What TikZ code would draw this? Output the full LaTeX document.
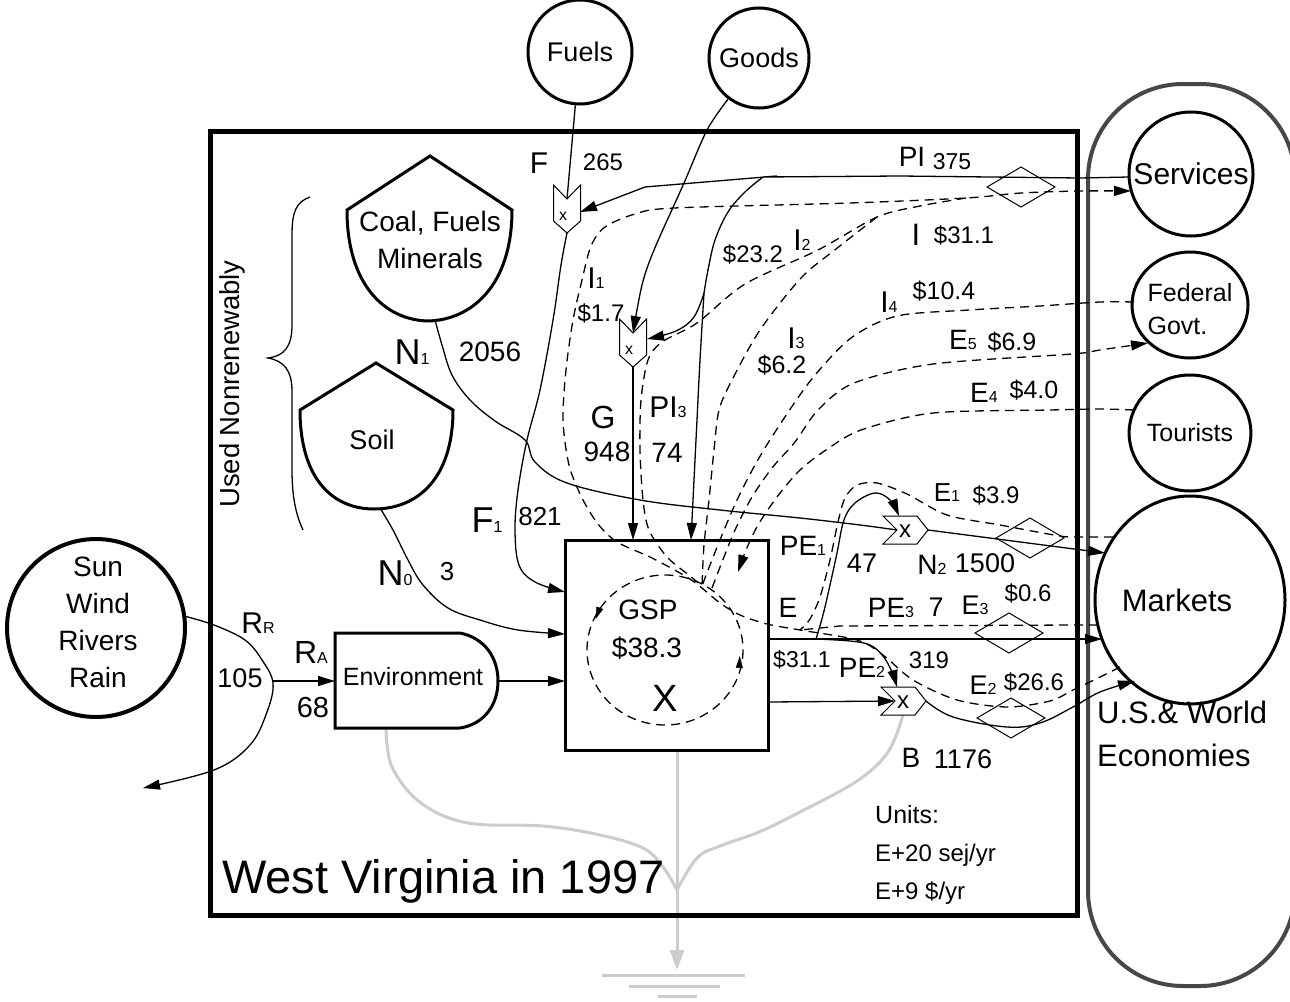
\documentclass[tikz,border=0pt]{standalone}
\usepackage{fontspec}
\setmainfont{Liberation Sans}
\usetikzlibrary{arrows.meta,shapes.geometric}
\newcommand\myfs[1]{\fontsize{#1}{#1}\selectfont}
\newcommand\sbx[1]{{\myfs{16}#1}}
\begin{document}
\begin{tikzpicture}[x=1pt,y=-1pt,
  fl/.style={line width=1.3},
  arr/.style={-{Triangle[length=17pt,width=10pt]}},
  arrs/.style={-{Triangle[length=12pt,width=7pt]}},
  dsh/.style={line width=1.3, dash pattern=on 9pt off 6pt},
  heavy/.style={line width=3},
  ishape/.style={line width=1, fill=white},
  sinkl/.style={line width=3, draw=black!20},
  lb/.style={inner sep=0},
  pics/downx/.style={code={
    \draw[ishape] (-13.5,-24) -- (0,-10) -- (13.5,-24) -- (13.5,12) -- (0,24) -- (-13.5,12) -- cycle;
    \node[inner sep=0,font=\myfs{16}] at (-4,7) {x};
    \coordinate (-top) at (0,-10);
    \coordinate (-bot) at (0,24);
  }},
  pics/rightx/.style={code={
    \draw[ishape] (-22,-14) -- (-8,0) -- (-22,14) -- (12,14) -- (23,0) -- (12,-14) -- cycle;
    \node[inner sep=0,font=\myfs{24}] at (0,1) {x};
    \coordinate (-in) at (-8,0);
    \coordinate (-tip) at (23,0);
    \coordinate (-top) at (-6,-14);
    \coordinate (-bot) at (0,14);
  }},
  pics/price/.style={code={
    \draw[line width=1] (-34,0) -- (0,-20) -- (34,0) -- (0,20) -- cycle;
  }},
]
\fill[white] (0,0) rectangle (1290,1001);
\useasboundingbox (0,0) rectangle (1290,1001);

% ---------- named points ----------
\coordinate (coalB) at (435,320);
\coordinate (soilB) at (380,508);
\coordinate (envW) at (335,681);
\coordinate (envE) at (498,681);
\coordinate (envS) at (386,728);
\coordinate (gspF1) at (565,592);
\coordinate (gspN0) at (565,634);
\coordinate (gspEnv) at (565,681);
\coordinate (gspG) at (633,540);
\coordinate (gspPI) at (691,540);
\coordinate (gspE) at (768,639);
\coordinate (gspB) at (768,702);
\coordinate (gspS) at (677,750);
\coordinate (mkN2) at (1105,553);
\coordinate (mkE) at (1102,639);
\coordinate (mkB) at (1135,681);
\coordinate (mkE1) at (1113,537);
\coordinate (mkE3) at (1098,625);
\coordinate (mkE2) at (1120,667);
\coordinate (servPI) at (1129,177);
\coordinate (servI) at (1131,191);
\coordinate (fedI4) at (1134,302);
\coordinate (fedE5) at (1148,343);
\coordinate (tourE4) at (1134,410);
\coordinate (sunR) at (184,616);
\coordinate (sunOut) at (143,788);
\coordinate (rsplit) at (272,681);
\coordinate (Fr) at (580,212);
\coordinate (Gr) at (647,339);
\coordinate (piSplit) at (763,177);
\coordinate (piG) at (704,293);
\coordinate (eSplit) at (816,639);
\coordinate (J) at (877,217);
\coordinate (conv) at (702,586);
\coordinate (hsj) at (677,890);
\coordinate (Bbot) at (903,715);

% ---------- heat sink ----------
\draw[sinkl] plot[smooth,tension=0.6] coordinates {(envS) (392,767) (421,803) (468,823) (543,826) (600,835) (643,848) (663,867) (hsj)};
\draw[sinkl] plot[smooth,tension=0.6] coordinates {(Bbot) (888,752) (857,781) (800,812) (759,832) (720,846) (697,858) (hsj)};
\draw[sinkl,-{Triangle[length=20pt,width=14pt]}] (gspS) -- (677,970);
\draw[sinkl] (602,975) -- (745,975);
\draw[sinkl] (629,986) -- (720,986);
\draw[sinkl] (658,996) -- (697,996);

% ---------- economy enclosure ----------
\draw[line width=4, draw=black!72, rounded corners=95] (1088,84) rectangle (1295,986);

% ---------- sources ----------
\node[circle,draw,heavy,minimum size=104,inner sep=0,font=\myfs{27}] (fuels) at (580,52) {Fuels};
\node[circle,draw,heavy,minimum size=100,inner sep=0,font=\myfs{27}] (goods) at (759,58) {Goods};
\node[circle,draw,line width=4,minimum size=178,inner sep=0] (sun) at (96,628) {};
\node[align=center,font=\fontsize{28}{37}\selectfont] (suntxt) at (98,622) {Sun\\Wind\\Rivers\\Rain};
\node[circle,draw,heavy,minimum size=124,inner sep=0,font=\myfs{30}] (serv) at (1191,174) {Services};
\node[ellipse,draw,heavy,minimum width=116,minimum height=106,inner sep=0] (fed) at (1190,305) {};
\node[align=left,inner sep=0,font=\fontsize{25}{33}\selectfont] (fedtxt) at (1190,309) {Federal\\Govt.};
\node[ellipse,draw,heavy,minimum width=120,minimum height=116,inner sep=0,font=\myfs{25}] (tour) at (1190,433) {Tourists};
\node[ellipse,draw,heavy,minimum width=190,minimum height=208,inner sep=0] (mkt) at (1190,600) {};
\node[inner sep=0,font=\myfs{31}] (mkttxt) at (1177,600) {Markets};
\node[anchor=west,inner sep=0,font=\myfs{31}] (us) at (1097,712) {U.S.\& World};
\node[anchor=west,inner sep=0,font=\myfs{31}] (econ) at (1097,755) {Economies};

% ---------- storages ----------
\draw[heavy] (430,156) -- (512,210) .. controls (512,285) and (472,320) .. (428,321) .. controls (385,320) and (347,285) .. (347,210) -- cycle;
\node[align=center,font=\fontsize{28}{37}\selectfont] (coal) at (430,240) {Coal, Fuels\\Minerals};
\draw[heavy] (376,363) -- (453,410) .. controls (453,478) and (418,509) .. (374,509) .. controls (332,509) and (300,478) .. (300,410) -- cycle;
\node[font=\myfs{27}] (soil) at (372,440) {Soil};

% brace
\draw[fl] (310,197) .. controls (296,202) and (292,212) .. (292,235) -- (292,325) .. controls (292,347) and (284,356) .. (268,358) .. controls (284,361) and (292,370) .. (292,392) -- (292,470) .. controls (292,500) and (297,517) .. (303,530);
\node[rotate=90,font=\myfs{27.5}] (usednr) at (232,384) {Used Nonrenewably};

% environment
\draw[heavy] (335,633) -- (460,633) .. controls (485,638) and (498,658) .. (498,681) .. controls (498,704) and (485,724) .. (460,728) -- (335,728) -- cycle;
\node[font=\myfs{25}] (envtxt) at (413,677) {Environment};

% GSP box
\node[draw,heavy,minimum width=203,minimum height=210,inner sep=0] (gsp) at (666.5,645) {};
\draw[dsh] (665,650) ellipse [x radius=78, y radius=75];
\draw[arrs] (599,610) -- (595.5,619);
\draw[arrs] (739.3,668) -- (739.8,656);
\node[lb,font=\myfs{28}] (gsptxt) at (648,610) {GSP};
\node[lb,font=\myfs{28}] (gspval) at (647,648) {\$38.3};
\node[lb,font=\myfs{38}] (gspx) at (665,698) {X};

% interactions and prices
\pic (F) at (567,209) {downx};
\pic (G) at (633,343) {downx};
\pic (N2) at (905,530) {rightx};
\pic (B) at (903,701) {rightx};
\pic at (1021,187) {price};
\pic at (1030,538) {price};
\pic at (1009,633) {price};
\pic at (1011,718) {price};

% ---------- solid flows ----------
\draw[fl] (fuels.-95) -- (F-top);
\draw[fl,arr] plot[smooth,tension=0.6] coordinates {(F-bot) (561,265) (553,320) (540,390) (527,440) (518,490) (515,530) (519,565) (535,582) (gspF1)};
\draw[fl,arr] (servPI) -- (1080,178) -- (900,176) -- (piSplit) -- (777,176) -- (645,187) -- (Fr);
\draw[fl] plot[smooth,tension=0.6] coordinates {(piSplit) (745,192) (728,212) (715,240) (708,270) (piG)};
\draw[fl,arr] plot[smooth,tension=0.6] coordinates {(piG) (700,360) (697,420) (694,480) (gspPI)};
\draw[fl,arr] plot[smooth,tension=0.6] coordinates {(piG) (694,317) (676,331) (Gr)};
\draw[fl,arr] plot[smooth,tension=0.5] coordinates {(goods.-127) (707,130) (684,183) (654,250) (642,285) (G-top)};
\draw[fl,arr] (G-bot) -- (gspG);
\draw[fl] plot[smooth,tension=0.6] coordinates {(coalB) (442,345) (452,375) (470,400) (495,421) (525,440) (535,462) (567,483) (640,500) (720,510) (800,518) (860,525) (N2-in)};
\draw[fl,arr] (N2-tip) -- (mkN2);
\draw[fl,arr] (gspE) -- (mkE);
\draw[fl,arr] plot[smooth,tension=0.6] coordinates {(eSplit) (823,615) (830,585) (837,553) (844,520) (855,503) (875,493) (890,500) (N2-top)};
\draw[fl,arr] plot[smooth,tension=0.6] coordinates {(eSplit) (850,641) (870,645) (883,656) (892,672) (B-top)};
\draw[fl,arr] (gspB) -- (B-in);
\draw[fl,arr] plot[smooth,tension=0.6] coordinates {(B-tip) (953,717) (1007,727) (1040,723) (1073,707) (1100,692) (mkB)};
\draw[fl,arr] plot[smooth,tension=0.6] coordinates {(sunR) (214,625) (245,640) (262,660) (273,683) (267,712) (250,745) (214,770) (sunOut)};
\draw[fl,arr] (rsplit) -- (envW);
\draw[fl,arr] (envE) -- (gspEnv);
\draw[fl,arr] plot[smooth,tension=0.6] coordinates {(soilB) (393,530) (408,560) (423,585) (448,608) (480,620) (518,630) (gspN0)};

% ---------- money flows ----------
\draw[dsh,arr] plot[smooth,tension=0.5] coordinates {(mkE2) (1098,678) (1073,690) (1050,701) (1007,707) (957,700) (913,680) (883,655) (857,640) (800,630) (767,624) (740,615) (720,603) (697,584) (680,573) (650,557) (617,542) (598,524) (582,498) (569,465) (563,420) (566,370) (573,320) (582,280) (591,246) (605,227) (635,214) (674,208) (850,203) (966,198) (1021,193) (1080,191) (servI)};
\draw[dsh] plot[smooth,tension=0.5] coordinates {(966,198) (920,206) (J) (818,250) (745,284) (697,323) (662,342) (648,360) (641,400) (640,450) (643,500) (649,530) (667,557) (690,576) (conv)};
\draw[dsh] plot[smooth,tension=0.5] coordinates {(J) (836,249) (801,278) (760,330) (732,380) (719,410) (714,450) (709,500) (704,545) (conv)};
\draw[dsh] plot[smooth,tension=0.5] coordinates {(fedI4) (1100,302) (1040,306) (969,310) (897,316) (851,338) (811,380) (775,432) (755,465) (737,500) (722,535) (710,565) (conv)};
\draw[dsh,arr] plot[smooth,tension=0.5] coordinates {(712,588) (722,562) (735,530) (752,497) (772,468) (795,442) (818,410) (854,383) (933,364) (1072,354) (1100,350) (fedE5)};
\draw[dsh,arr] plot[smooth,tension=0.5] coordinates {(tourE4) (1100,409) (1050,410) (933,413) (861,430) (826,450) (800,470) (777,497) (758,525) (746,550) (738,572)};
\draw[dsh] plot[smooth,tension=0.5] coordinates {(mkE1) (1080,537) (1060,536) (1000,525) (947,515) (907,494) (877,483) (857,485) (845,498) (838,522) (830,560) (820,597) (810,619) (800,630)};
\draw[dsh] (mkE3) -- (1080,625) -- (840,626) -- (800,630);

% ---------- labels ----------
\node[lb,font=\myfs{30}] (lF) at (539,163) {F};
\node[lb,font=\myfs{24}] (l265) at (603,162) {265};
\node[lb,font=\myfs{28}] (lPI) at (912,157) {PI};
\node[lb,font=\myfs{23}] (l375) at (952,162) {375};
\node[lb,font=\myfs{31}] (lI) at (916,235) {I};
\node[lb,font=\myfs{24}] (l311a) at (964,235) {\$31.1};
\node[lb,font=\myfs{24}] (l232) at (753,254) {\$23.2};
\node[lb,font=\myfs{30}] (lI2) at (802,240) {I\sbx{2}};
\node[lb,font=\myfs{30}] (lI1) at (596,278) {I\sbx{1}};
\node[lb,font=\myfs{24}] (l17) at (601,313) {\$1.7};
\node[lb,font=\myfs{30}] (lI4) at (889,302) {I\sbx{4}};
\node[lb,font=\myfs{25}] (l104) at (944,291) {\$10.4};
\node[lb,font=\myfs{30}] (lI3) at (796,338) {I\sbx{3}};
\node[lb,font=\myfs{25}] (l62) at (782,365) {\$6.2};
\node[lb,font=\myfs{28}] (lE5) at (963,340) {E\sbx{5}};
\node[lb,font=\myfs{25}] (l69) at (1012,342) {\$6.9};
\node[lb,font=\myfs{28}] (lE4) at (984,393) {E\sbx{4}};
\node[lb,font=\myfs{25}] (l40) at (1034,390) {\$4.0};
\node[lb,font=\myfs{32}] (lG) at (603,417) {G};
\node[lb,font=\myfs{28}] (l948) at (607,452) {948};
\node[lb,font=\myfs{30}] (lPI3) at (668,407) {PI\sbx{3}};
\node[lb,font=\myfs{28}] (l74) at (667,453) {74};
\node[lb,font=\myfs{36}] (lN1) at (412,352) {N\sbx{1}};
\node[lb,font=\myfs{28}] (l2056) at (490,352) {2056};
\node[lb,font=\myfs{36}] (lF1) at (487,520) {F\sbx{1}};
\node[lb,font=\myfs{26}] (l821) at (540,517) {821};
\node[lb,font=\myfs{36}] (lN0) at (395,573) {N\sbx{0}};
\node[lb,font=\myfs{26}] (l3) at (447,572) {3};
\node[lb,font=\myfs{30}] (lRR) at (258,623) {R\sbx{R}};
\node[lb,font=\myfs{32}] (lRA) at (311,652) {R\sbx{A}};
\node[lb,font=\myfs{27}] (l105) at (240,678) {105};
\node[lb,font=\myfs{29}] (l68) at (313,708) {68};
\node[lb,font=\myfs{28}] (lPE1) at (803,546) {PE\sbx{1}};
\node[lb,font=\myfs{27}] (l47) at (862,563) {47};
\node[lb,font=\myfs{28}] (lN2) at (932,565) {N\sbx{2}};
\node[lb,font=\myfs{27}] (l1500) at (985,563) {1500};
\node[lb,font=\myfs{26}] (lE1) at (947,493) {E\sbx{1}};
\node[lb,font=\myfs{24}] (l39) at (996,495) {\$3.9};
\node[lb,font=\myfs{28}] (lE) at (788,608) {E};
\node[lb,font=\myfs{28}] (lPE3) at (891,608) {PE\sbx{3}};
\node[lb,font=\myfs{27}] (l7) at (936,607) {7};
\node[lb,font=\myfs{27}] (lE3) at (975,605) {E\sbx{3}};
\node[lb,font=\myfs{24}] (l06) at (1028,593) {\$0.6};
\node[lb,font=\myfs{23}] (l311b) at (802,660) {\$31.1};
\node[lb,font=\myfs{28}] (lPE2) at (862,668) {PE\sbx{2}};
\node[lb,font=\myfs{24}] (l319) at (929,660) {319};
\node[lb,font=\myfs{27}] (lE2) at (983,685) {E\sbx{2}};
\node[lb,font=\myfs{24}] (l266) at (1034,682) {\$26.6};
\node[lb,font=\myfs{28}] (lB) at (911,758) {B};
\node[lb,font=\myfs{27}] (l1176) at (963,759) {1176};
\node[anchor=west,lb,font=\myfs{25}] (units) at (875,815) {Units:};
\node[anchor=west,lb,font=\myfs{24}] (u1) at (875,855) {E+20 sej/yr};
\node[anchor=west,lb,font=\myfs{24}] (u2) at (875,893) {E+9 \$/yr};
\node[anchor=west,lb,font=\myfs{47}] (title) at (222,881) {West Virginia in 1997};

% ---------- system frame ----------
\draw[line width=5] (210,131) rectangle (1077,915);
\end{tikzpicture}
\end{document}
